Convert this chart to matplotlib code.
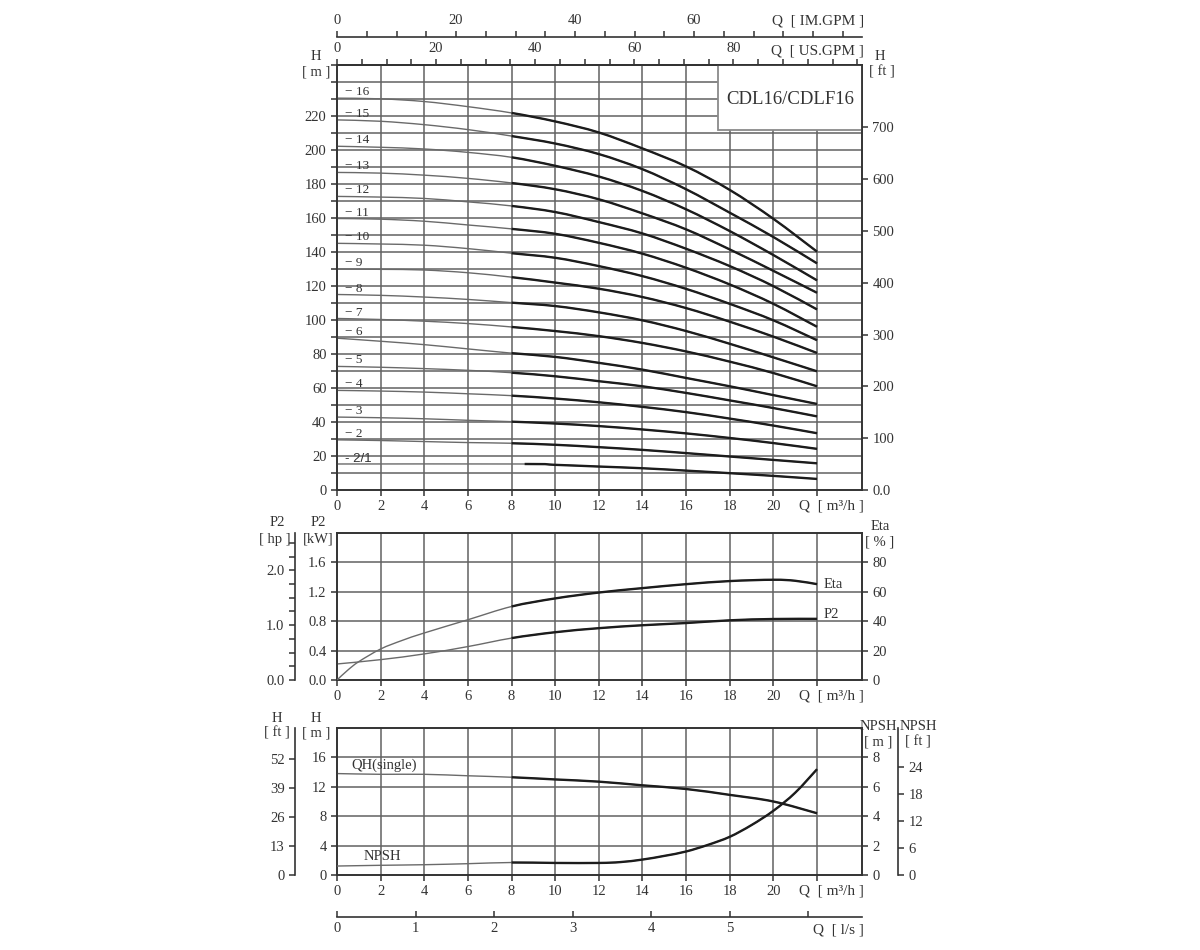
import numpy as np
import matplotlib
matplotlib.use("Agg")
import matplotlib.pyplot as plt
from matplotlib.ticker import MultipleLocator
from matplotlib.patches import Rectangle, PathPatch
from matplotlib.path import Path

plt.rcParams['font.family'] = ['Liberation Serif', 'DejaVu Serif']
plt.rcParams['font.size'] = 10.5
plt.rcParams['text.color'] = '#333333'

# ---- data ----
q_main = [0, 2, 4, 6, 8, 10, 12, 14, 16, 18, 20, 22]          # m3/h
stage_names = ['16', '15', '14', '13', '12', '11', '10', '9',
               '8', '7', '6', '5', '4', '3', '2']
stage_heads = [
    [230.5, 230.1, 228.5, 225.5, 221.8, 216.8, 210.3, 200.9, 190.3, 176.5, 159.5, 140.2],
    [217.7, 216.9, 214.9, 212.0, 208.2, 203.8, 197.6, 188.7, 176.9, 163.1, 148.8, 133.3],
    [202.2, 201.6, 200.6, 198.6, 195.7, 190.7, 184.4, 175.9, 165.1, 152.3, 138.2, 123.3],
    [186.8, 186.4, 185.2, 183.3, 180.6, 176.9, 171.0, 162.7, 153.3, 141.5, 128.9, 116.0],
    [172.7, 172.3, 171.5, 169.5, 167.1, 163.5, 157.6, 150.9, 141.9, 131.7, 119.9, 106.2],
    [159.7, 159.3, 158.1, 155.9, 153.6, 150.7, 145.4, 139.0, 130.7, 120.9, 109.5, 96.0],
    [145.1, 144.7, 144.0, 142.0, 139.3, 136.6, 131.7, 125.8, 118.3, 109.5, 99.8, 88.1],
    [130.0, 129.8, 129.4, 127.8, 125.2, 122.0, 118.4, 113.5, 107.0, 99.0, 90.2, 80.6],
    [115.0, 114.5, 113.5, 112.1, 110.2, 108.2, 104.5, 99.8, 93.5, 86.0, 78.0, 69.8],
    [100.9, 100.3, 99.3, 97.9, 95.9, 93.5, 90.5, 86.5, 81.5, 75.5, 68.8, 61.0],
    [89.3, 87.5, 85.5, 83.0, 80.5, 78.3, 74.8, 70.8, 65.9, 61.0, 55.8, 50.6],
    [72.7, 72.2, 71.4, 70.4, 69.0, 66.9, 64.0, 61.0, 57.1, 52.7, 48.2, 43.3],
    [58.6, 58.2, 57.6, 56.6, 55.5, 53.8, 51.6, 48.9, 45.8, 42.0, 37.9, 33.4],
    [42.9, 42.5, 41.9, 41.0, 40.2, 39.1, 37.6, 35.6, 33.3, 30.6, 27.6, 24.2],
    [29.5, 29.1, 28.5, 27.9, 27.5, 26.6, 25.2, 23.6, 21.7, 19.7, 17.7, 15.7],
]
q_21 = [0, 8.6, 10, 12, 14, 16, 18, 20, 22]
h_21 = [15.3, 15.3, 14.8, 13.8, 12.8, 11.4, 9.9, 8.3, 6.5]

q_eta = [0, 0.5, 1, 2, 3, 4, 6, 8, 10, 12, 14, 16, 18, 20, 21, 22]
eta = [0, 6.8, 12.5, 21.1, 27.0, 32.0, 41.0, 50.0, 55.5, 59.5, 62.5, 65.2, 67.3, 68.2, 67.5, 65.2]
q_p2 = [0, 2, 4, 6, 8, 10, 12, 14, 16, 18, 20, 22]
p2_kw = [0.218, 0.277, 0.355, 0.455, 0.57, 0.65, 0.705, 0.745, 0.775, 0.812, 0.83, 0.832]

q_single = [0, 2, 4, 6, 8, 10, 12, 14, 16, 18, 20, 22]
h_single = [13.8, 13.7, 13.7, 13.5, 13.3, 13.0, 12.7, 12.2, 11.7, 10.9, 10.0, 8.4]
q_npsh = [0, 2, 4, 6, 8, 10, 12, 13, 14, 15, 16, 17, 18, 19, 20, 21, 22]
npsh = [0.61, 0.66, 0.70, 0.77, 0.85, 0.82, 0.82, 0.88, 1.05, 1.3, 1.6, 2.05, 2.6, 3.4, 4.37, 5.6, 7.2]

QMAX = 24.06
GRID = '#626262'
INK = '#333333'

fig = plt.figure(figsize=(12, 9.5), dpi=100)


def box(l, t, r, b):
    return [l / 1200, 1 - b / 950, (r - l) / 1200, (b - t) / 950]


def ftext(x, y, s, **kw):
    kw.setdefault('ha', 'center')
    kw.setdefault('va', 'center')
    fig.text(x / 1200, 1 - y / 950, s, **kw)


def frame(ax):
    for sp in ax.spines.values():
        sp.set_color(INK)
        sp.set_linewidth(1.2)
    ax.tick_params(which='both', colors=INK, width=1.1, labelsize=10.5, length=4)


def grid(ax, hvals):
    for h in hvals:
        ax.axhline(h, color=GRID, lw=1.1, zorder=1)
    for q in range(2, 23, 2):
        ax.axvline(q, color=GRID, lw=1.1, zorder=1)


def bezier_segments(q, v):
    # smooth curve through the read points (Catmull-Rom drawn as cubic Bezier)
    p = np.column_stack([q, v]).astype(float)
    ext = np.vstack([p[0], p, p[-1]])
    segs = []
    for i in range(len(p) - 1):
        p0, p1, p2, p3 = ext[i], ext[i + 1], ext[i + 2], ext[i + 3]
        c1 = p1 + (p2 - p0) / 6
        c2 = p2 - (p3 - p1) / 6
        segs.append((p1, c1, c2, p2))
    return segs


def draw_path(ax, segs, **kw):
    if not segs:
        return
    verts = [segs[0][0]]
    codes = [Path.MOVETO]
    for _, c1, c2, e in segs:
        verts += [c1, c2, e]
        codes += [Path.CURVE4] * 3
    ax.add_patch(PathPatch(Path(verts, codes), fill=False, capstyle='butt', **kw))


def curve(ax, q, v, qsplit=8):
    segs = bezier_segments(q, v)
    draw_path(ax, segs, edgecolor='#6a6a6a', lw=1.0, zorder=3)
    draw_path(ax, [s for s in segs if s[0][0] >= qsplit - 1e-9],
              edgecolor='#1c1c1c', lw=1.7, zorder=4)


def q_ticks(ax):
    ax.set_xlim(0, QMAX)
    ax.set_xticks(range(0, 23, 2))
    ax.set_xticklabels([str(v) for v in range(0, 21, 2)] + [''])


# ---------------- main panel: H vs Q ----------------
ax1 = fig.add_axes(box(337, 65, 862, 490))
frame(ax1)
q_ticks(ax1)
ax1.set_ylim(0, 250)
ax1.set_yticks(range(0, 221, 20))
ax1.yaxis.set_minor_locator(MultipleLocator(10))
grid(ax1, range(10, 250, 10))

for name, h in zip(stage_names, stage_heads):
    curve(ax1, q_main, h)
    ax1.text(0.35, h[0] + 3.5, '− ' + name, fontsize=9.5, ha='left', va='center', zorder=6)
curve(ax1, q_21, h_21, qsplit=8.6)
ax1.text(0.35, h_21[0] + 3.2, '- 2/1', fontsize=9.5, ha='left', va='center',
         family='Liberation Sans', zorder=6)

ax1.add_patch(Rectangle((0.7257, 0.847), 0.2743, 0.153, transform=ax1.transAxes,
                        facecolor='white', edgecolor='#8a8a8a', lw=1.3, zorder=5))
ax1.text(0.863, 0.92, 'CDL16/CDLF16', transform=ax1.transAxes, fontsize=13.5,
         ha='center', va='center', zorder=6)

ax1r = ax1.twinx()
frame(ax1r)
ax1r.set_ylim(0, 250 * 3.28084)
ax1r.set_yticks(range(0, 701, 100))
ax1r.set_yticklabels(['0.0'] + [str(v) for v in range(100, 701, 100)])

us = ax1.secondary_xaxis('top', functions=(lambda x: x * 4.4029, lambda g: g / 4.4029))
frame(us)
us.set_xticks([0, 20, 40, 60, 80])
us.xaxis.set_minor_locator(MultipleLocator(5))

im = ax1.secondary_xaxis(1.066, functions=(lambda x: x * 3.6662, lambda g: g / 3.6662))
frame(im)
im.set_xticks([0, 20, 40, 60])
im.xaxis.set_minor_locator(MultipleLocator(5))

ftext(316, 57, 'H')
ftext(316, 72, '[ m ]')
ftext(880, 57, 'H')
ftext(882, 72, '[ ft ]')
ftext(864, 21, 'Q  [ IM.GPM ]', ha='right', fontsize=11)
ftext(864, 51, 'Q  [ US.GPM ]', ha='right', fontsize=11)
ftext(864, 506, 'Q  [ m³/h ]', ha='right', fontsize=11)

# ---------------- middle panel: P2 and Eta ----------------
ax2 = fig.add_axes(box(337, 533, 862, 680))
frame(ax2)
q_ticks(ax2)
ax2.set_ylim(0, 2.0)
ax2.set_yticks([0, 0.4, 0.8, 1.2, 1.6])
ax2.set_yticklabels(['0.0', '0.4', '0.8', '1.2', '1.6'])
grid(ax2, [0.4, 0.8, 1.2, 1.6])
curve(ax2, q_p2, p2_kw)

ax2r = ax2.twinx()
frame(ax2r)
ax2r.set_ylim(0, 100)
ax2r.set_yticks(range(0, 81, 20))
curve(ax2r, q_eta, eta)

hp = ax2.secondary_yaxis(-0.08, functions=(lambda k: k / 0.7457, lambda h: h * 0.7457))
frame(hp)
hp.set_yticks([0, 1, 2])
hp.set_yticklabels(['0.0', '1.0', '2.0'])
hp.yaxis.set_minor_locator(MultipleLocator(0.25))

ftext(318, 522, 'P2')
ftext(318, 539, '[kW]')
ftext(277, 522, 'P2')
ftext(275, 539, '[ hp ]')
ftext(880, 526, 'Eta')
ftext(880, 542, '[ % ]')
ftext(824, 585, 'Eta', ha='left')
ftext(824, 614, 'P2', ha='left')
ftext(864, 696, 'Q  [ m³/h ]', ha='right', fontsize=11)

# ---------------- bottom panel: single stage QH and NPSH ----------------
ax3 = fig.add_axes(box(337, 728, 862, 875))
frame(ax3)
q_ticks(ax3)
ax3.set_ylim(0, 20)
ax3.set_yticks([0, 4, 8, 12, 16])
grid(ax3, [4, 8, 12, 16])
curve(ax3, q_single, h_single)
ax3.text(2.15, 14.9, 'QH(single)', ha='center', va='center')
ax3.text(2.1, 2.45, 'NPSH', ha='center', va='center')

ax3r = ax3.twinx()
frame(ax3r)
ax3r.set_ylim(0, 10)
ax3r.set_yticks(range(0, 9, 2))
curve(ax3r, q_npsh, npsh)

hft = ax3.secondary_yaxis(-0.08, functions=(lambda m: m * 3.28084, lambda f: f / 3.28084))
frame(hft)
hft.set_yticks([0, 13, 26, 39, 52])

nft = ax3r.secondary_yaxis(1.0686, functions=(lambda m: m * 3.28084, lambda f: f / 3.28084))
frame(nft)
nft.set_yticks([0, 6, 12, 18, 24])

ls = ax3.secondary_xaxis(-0.2857, functions=(lambda q: q / 3.6, lambda l: l * 3.6))
frame(ls)
ls.set_xticks(range(0, 7))
ls.set_xticklabels(['0', '1', '2', '3', '4', '5', ''])
ls.tick_params(direction='in', length=4)

ftext(277, 718, 'H')
ftext(277, 733, '[ ft ]')
ftext(316, 718, 'H')
ftext(316, 733, '[ m ]')
ftext(878, 727, 'NPSH')
ftext(878, 742, '[ m ]')
ftext(918, 727, 'NPSH')
ftext(918, 742, '[ ft ]')
ftext(864, 891, 'Q  [ m³/h ]', ha='right', fontsize=11)
ftext(864, 930, 'Q  [ l/s ]', ha='right', fontsize=11)

fig.savefig('out.png', dpi=100, facecolor='white')
